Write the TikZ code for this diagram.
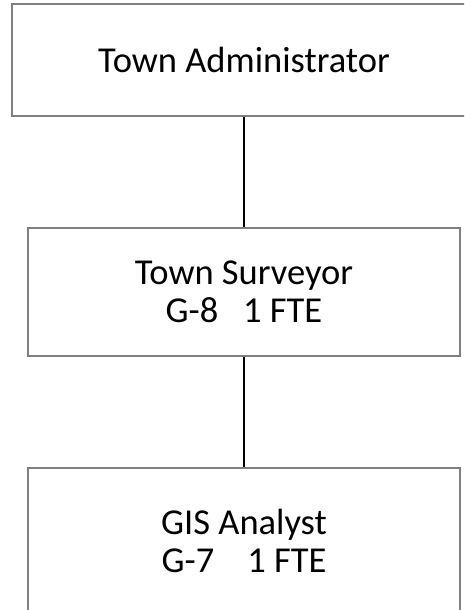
\documentclass[tikz,border=0pt]{standalone}
\usepackage{fontspec}
\setmainfont{Carlito}
\begin{document}
\begin{tikzpicture}[x=1pt,y=1pt,
  orgbox/.style={draw=black!50, line width=1.5pt, fill=white, inner sep=0pt,
    align=center, font=\fontsize{36.5}{38}\selectfont, text=black},
  link/.style={draw=black, line width=1.5pt}]
\useasboundingbox (0,0) rectangle (464,-610);
\clip (0,0) rectangle (464,-610);
\node[orgbox, minimum width=464pt, minimum height=112pt] (admin) at (244,-60) {Town Administrator};
\node[orgbox, minimum width=432pt, minimum height=128pt] (surv) at (244,-292) {Town Surveyor\\G-8\ \ \ 1 FTE};
\node[orgbox, minimum width=432pt, minimum height=146pt] (gis) at (244,-541) {GIS Analyst\\G-7\ \ \ \ 1 FTE};
\draw[link] (admin.south) -- (surv.north);
\draw[link] (surv.south) -- (gis.north);
\end{tikzpicture}
\end{document}
